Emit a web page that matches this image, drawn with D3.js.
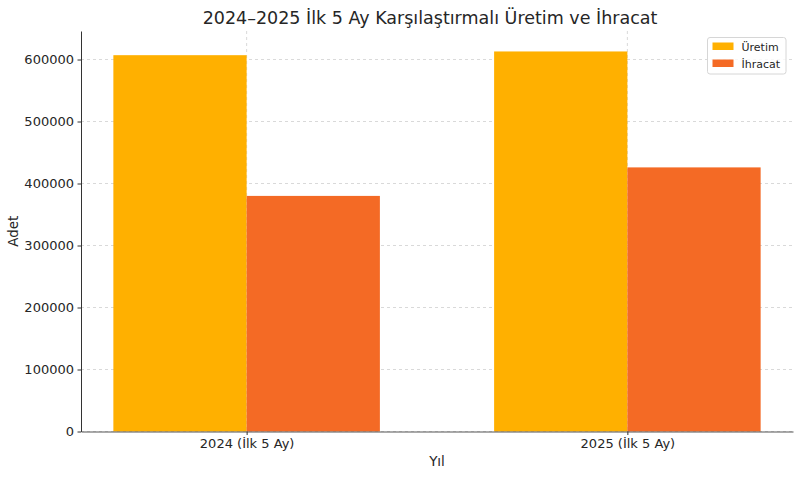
<!DOCTYPE html>
<html>
<head>
<meta charset="utf-8">
<script src="https://cdn.jsdelivr.net/npm/d3@7"></script>
<style>
  body { margin: 0; background: #fff; }
  svg text { font-family: "DejaVu Sans", sans-serif; fill: #262626; }
</style>
</head>
<body>
<div id="chart"></div>
<script>
// data
const years = ["2024 (İlk 5 Ay)", "2025 (İlk 5 Ay)"];
const seriesNames = ["Üretim", "İhracat"];
const uretim = [607000, 613000];
const ihracat = [380000, 426000];
const yTicks = [0, 100000, 200000, 300000, 400000, 500000, 600000];

const colors = ["#ffb000", "#f46a25"];

const width = 800, height = 477;
const margin = {top: 31, right: 7, bottom: 45.5, left: 81};
const innerW = width - margin.left - margin.right;
const innerH = height - margin.top - margin.bottom;

const svg = d3.select("#chart")
  .append("svg")
  .attr("width", width)
  .attr("height", height);

const g = svg.append("g")
  .attr("transform", `translate(${margin.left},${margin.top})`);

// bars sit at integer positions like matplotlib, width 0.35 each
const barW = 0.35;
const x = d3.scaleLinear()
  .domain([-0.435, (years.length - 1) + 0.435])
  .range([0, innerW]);

const y = d3.scaleLinear()
  .domain([0, 646000])
  .range([innerH, 0]);

// grid
g.append("g")
  .selectAll("line")
  .data(yTicks)
  .join("line")
  .attr("x1", 0)
  .attr("x2", innerW)
  .attr("y1", d => y(d))
  .attr("y2", d => y(d))
  .attr("stroke", "#cfcfcf")
  .attr("stroke-width", 0.8)
  .attr("stroke-dasharray", "3,3");

g.append("g")
  .selectAll("line")
  .data(years)
  .join("line")
  .attr("x1", (d, i) => x(i))
  .attr("x2", (d, i) => x(i))
  .attr("y1", 0)
  .attr("y2", innerH)
  .attr("stroke", "#cfcfcf")
  .attr("stroke-width", 0.8)
  .attr("stroke-dasharray", "3,3");

// bars
const series = [uretim, ihracat];
series.forEach((vals, s) => {
  g.append("g")
    .selectAll("rect")
    .data(vals)
    .join("rect")
    .attr("x", (d, i) => x(i - barW + s * barW))
    .attr("width", x(barW) - x(0))
    .attr("y", d => y(d))
    .attr("height", d => y(0) - y(d))
    .attr("fill", colors[s]);
});

// axes
const yAxis = g.append("g")
  .call(d3.axisLeft(y).tickValues(yTicks).tickSize(3.5).tickSizeOuter(0).tickPadding(3.5).tickFormat(d3.format("d")));
yAxis.selectAll("text").style("font-size", "13px");

const xAxis = g.append("g")
  .attr("transform", `translate(0,${innerH})`)
  .call(d3.axisBottom(x).tickValues(d3.range(years.length)).tickSize(3.5).tickSizeOuter(0).tickPadding(3.5).tickFormat(i => years[i]));
xAxis.selectAll("text").style("font-size", "13px");

yAxis.select(".domain").attr("stroke", "#333").attr("stroke-width", 1);
xAxis.select(".domain").attr("stroke", "#555").attr("stroke-width", 1);
g.selectAll(".tick line").attr("stroke", "#333");

// axis titles
svg.append("text")
  .attr("x", margin.left + innerW / 2)
  .attr("y", 466)
  .attr("text-anchor", "middle")
  .style("font-size", "13.5px")
  .text("Yıl");

svg.append("text")
  .attr("transform", `translate(18,${margin.top + innerH / 2}) rotate(-90)`)
  .attr("text-anchor", "middle")
  .style("font-size", "13.5px")
  .text("Adet");

// title
svg.append("text")
  .attr("x", 430)
  .attr("y", 24)
  .attr("text-anchor", "middle")
  .style("font-size", "17.5px")
  .text("2024–2025 İlk 5 Ay Karşılaştırmalı Üretim ve İhracat");

// legend
const legend = svg.append("g").attr("transform", "translate(707.5,37.5)");
legend.append("rect")
  .attr("width", 78.5)
  .attr("height", 36.5)
  .attr("rx", 2.5)
  .attr("fill", "#fff")
  .attr("fill-opacity", 0.8)
  .attr("stroke", "#d6d6d6");

seriesNames.forEach((name, i) => {
  const row = legend.append("g").attr("transform", `translate(5,${5 + i * 17})`);
  row.append("rect")
    .attr("width", 21)
    .attr("height", 7.5)
    .attr("fill", colors[i]);
  row.append("text")
    .attr("x", 29)
    .attr("y", 8)
    .style("font-size", "11px")
    .text(name);
});
</script>
</body>
</html>
